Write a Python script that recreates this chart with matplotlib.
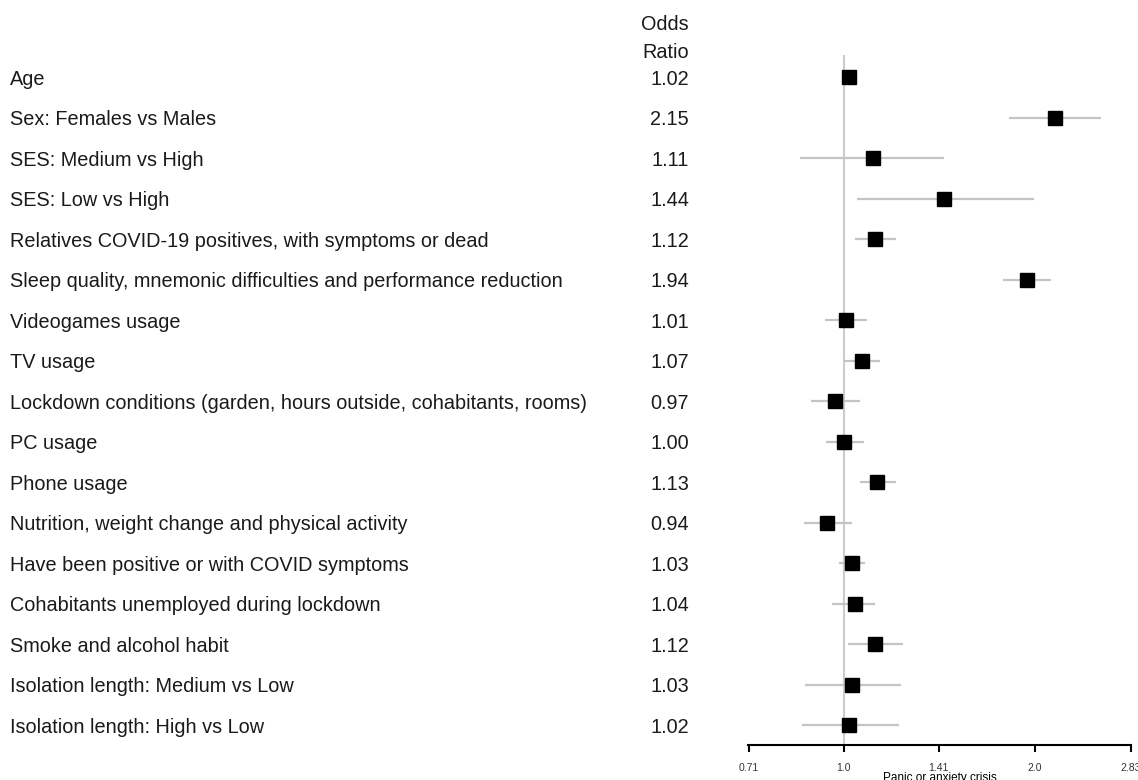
import numpy as np
import matplotlib.pyplot as plt
import matplotlib.transforms as mtransforms

plt.rcParams['font.family'] = ['Liberation Sans', 'DejaVu Sans']

labels = [
    'Age',
    'Sex: Females vs Males',
    'SES: Medium vs High',
    'SES: Low vs High',
    'Relatives COVID-19 positives, with symptoms or dead',
    'Sleep quality, mnemonic difficulties and performance reduction',
    'Videogames usage',
    'TV usage',
    'Lockdown conditions (garden, hours outside, cohabitants, rooms)',
    'PC usage',
    'Phone usage',
    'Nutrition, weight change and physical activity',
    'Have been positive or with COVID symptoms',
    'Cohabitants unemployed during lockdown',
    'Smoke and alcohol habit',
    'Isolation length: Medium vs Low',
    'Isolation length: High vs Low',
]
odds = [1.02, 2.15, 1.11, 1.44, 1.12, 1.94, 1.01, 1.07, 0.97, 1.00,
        1.13, 0.94, 1.03, 1.04, 1.12, 1.03, 1.02]
ci_low = [1.01, 1.82, 0.855, 1.05, 1.04, 1.78, 0.933, 1.00, 0.887, 0.938,
          1.06, 0.865, 0.982, 0.957, 1.015, 0.868, 0.859]
ci_high = [1.03, 2.54, 1.44, 1.99, 1.21, 2.12, 1.087, 1.14, 1.06, 1.075,
           1.21, 1.03, 1.079, 1.12, 1.24, 1.23, 1.22]
xticks = [0.71, 1.0, 1.41, 2.0, 2.83]
xtick_labels = ['0.71', '1.0', '1.41', '2.0', '2.83']

fig = plt.figure(figsize=(11.38, 7.8), dpi=100)
ax = fig.add_axes([748/1138, 1 - 745/780, (1131 - 748)/1138, (745 - 55)/780])

rows = np.arange(len(labels))
ax.axvline(1.0, color='#cccccc', lw=1.5, zorder=1)
ax.hlines(rows, ci_low, ci_high, color='#c4c4c4', lw=1.6, zorder=2)
ax.plot(odds, rows, 's', color='black', markersize=10, zorder=3)

ax.set_xscale('log', base=2)
ax.set_xlim(2 ** -0.5, 2 ** 1.5)
ax.set_ylim((745 - 77) / 40.5, (55 - 77) / 40.5)
ax.set_xticks(xticks)
ax.set_xticklabels(xtick_labels, fontsize=7.5)
ax.minorticks_off()
ax.set_yticks([])
for s in ['left', 'top', 'right']:
    ax.spines[s].set_visible(False)
ax.spines['bottom'].set_linewidth(1.5)
ax.tick_params(axis='x', length=5, width=1.5, pad=8, colors='black', labelcolor='#333333')
ax.set_xlabel('Panic or anxiety crisis', fontsize=8.5, labelpad=-1)

fs = 14.3
trans = mtransforms.blended_transform_factory(fig.transFigure, ax.transData)
for i, (lab, o) in enumerate(zip(labels, odds)):
    ax.text(10/1138, i + 0.06, lab, transform=trans, ha='left', va='center',
            fontsize=fs, color='#1a1a1a', clip_on=False)
    ax.text(689/1138, i + 0.06, f'{o:.2f}', transform=trans, ha='right', va='center',
            fontsize=fs, color='#1a1a1a', clip_on=False)

fig.text(689/1138, 1 - 24/780, 'Odds', ha='right', va='center', fontsize=fs, color='#1a1a1a')
fig.text(689/1138, 1 - 52/780, 'Ratio', ha='right', va='center', fontsize=fs, color='#1a1a1a')

fig.savefig('out.png', dpi=100)
